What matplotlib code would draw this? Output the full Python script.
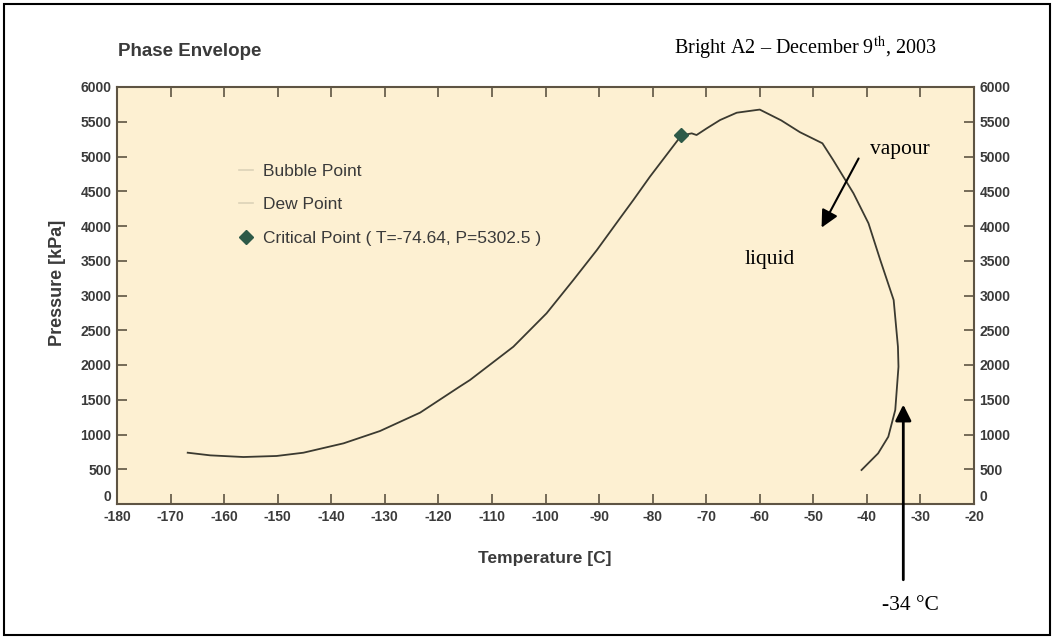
import matplotlib
matplotlib.use("Agg")
import matplotlib.pyplot as plt
from matplotlib.lines import Line2D
from matplotlib.patches import Rectangle

plt.rcParams['font.family'] = ['Liberation Sans', 'DejaVu Sans']
plt.rcParams['mathtext.fontset'] = 'stix'
plt.rcParams['axes.unicode_minus'] = False

# bubble point branch (left of critical point)
bubble_T = [-166.8, -162.6, -156.4, -150.2, -145.2, -137.7, -130.9, -123.4, -116.0, -114.1,
            -106.0, -99.8, -94.8, -90.4, -86.1, -83.6, -80.5, -74.64]
bubble_P = [738, 700, 676, 691, 738, 873, 1050, 1315, 1690, 1784,
            2263, 2744, 3223, 3655, 4111, 4374, 4710, 5302.5]

# dew point branch (right of critical point)
dew_T = [-74.64, -72.7, -71.8, -69.9, -67.4, -64.3, -60.6, -60.0, -56.0, -52.5, -48.3,
         -46.3, -42.5, -39.7, -37.5, -35.0, -34.2, -34.1, -34.7, -36.0, -37.9, -41.0]
dew_P = [5302.5, 5333, 5309, 5405, 5525, 5630, 5669, 5675, 5520, 5350, 5190,
         4950, 4470, 4039, 3511, 2935, 2263, 1975, 1353, 968, 729, 489]

crit_T = -74.64
crit_P = 5302.5

x_ticks = list(range(-180, -19, 10))
y_ticks = list(range(0, 6001, 500))

line_col = '#3b3a30'
txt_col = '#3a3a3a'
spine_col = '#5e5443'

fig = plt.figure(figsize=(10.54, 6.39), dpi=100)
ax = fig.add_axes([117/1054, 1-504/639, 857/1054, 417/639])
ax.set_facecolor('#fdf0d2')

ax.plot(bubble_T, bubble_P, color=line_col, lw=1.3)
ax.plot(dew_T, dew_P, color=line_col, lw=1.3)
ax.plot([crit_T], [crit_P], marker='D', color='#2e5a48', ms=7, ls='none')

ax.set_xlim(-180, -20)
ax.set_ylim(0, 6000)
ax.set_xticks(x_ticks)
ax.set_yticks(y_ticks)
ax.tick_params(axis='both', direction='in', length=7, width=1.2, color=spine_col,
               labelsize=10, labelcolor=txt_col, top=True, right=True, labelright=True, pad=4)
for lab in ax.get_xticklabels() + ax.get_yticklabels():
    lab.set_fontweight('bold')
# the "0" labels sit a little above the x axis, as in the original
for tk in ax.yaxis.get_major_ticks()[:1]:
    tk.label1.set_verticalalignment('bottom')
    tk.label2.set_verticalalignment('bottom')
for s in ax.spines.values():
    s.set_color(spine_col)
    s.set_linewidth(1.5)

handles = [Line2D([], [], color='#dcd2b8', lw=1.2),
           Line2D([], [], color='#dcd2b8', lw=1.2),
           Line2D([], [], color='#2e5a48', marker='D', ms=7, ls='none')]
labels = ['Bubble Point', 'Dew Point', 'Critical Point ( T=-74.64, P=5302.5 )']
leg = ax.legend(handles, labels, loc='upper left', bbox_to_anchor=(0.124, 0.853),
                frameon=False, fontsize=12.5, handlelength=0.8, handletextpad=0.6,
                labelspacing=1.05)
for t in leg.get_texts():
    t.set_color(txt_col)

# annotations
ax.annotate('', xy=(-48.7, 3942), xytext=(-41.3, 5007),
            arrowprops=dict(arrowstyle='-|>', color='black', lw=1.5, mutation_scale=26))
ax.text(-33.8, 5094, 'vapour', family='Liberation Serif', fontsize=15.5,
        ha='center', va='center', color='black')
ax.text(-58.1, 3511, 'liquid', family='Liberation Serif', fontsize=15.5,
        ha='center', va='center', color='black')
ax.annotate('', xy=(-33.2, 1470), xytext=(-33.2, -1130), annotation_clip=False,
            arrowprops=dict(arrowstyle='-|>', color='black', lw=2, mutation_scale=24))
fig.text(910/1054, 1-605/639, '-34 °C', family='Liberation Serif', fontsize=15.5,
         ha='center', va='center')

fig.text(118/1054, 1-52/639, 'Phase Envelope', fontsize=13.5, fontweight='bold',
         color=txt_col, va='center')
fig.text(937/1054, 1-48/639, r'Bright A2 – December 9$^{\mathrm{th}}$, 2003',
         family='Liberation Serif', fontsize=14.5, ha='right', va='center')
fig.text(58/1054, 1-283/639, 'Pressure [kPa]', fontsize=13, fontweight='bold',
         color=txt_col, rotation=90, ha='center', va='center')
fig.text(545/1054, 1-558/639, 'Temperature [C]', fontsize=12.5, fontweight='bold',
         color=txt_col, ha='center', va='center')

fig.patches.append(Rectangle((0.004, 0.006), 0.992, 0.988, transform=fig.transFigure,
                             fill=False, ec='black', lw=1.5))

fig.savefig('out.png', dpi=100)
